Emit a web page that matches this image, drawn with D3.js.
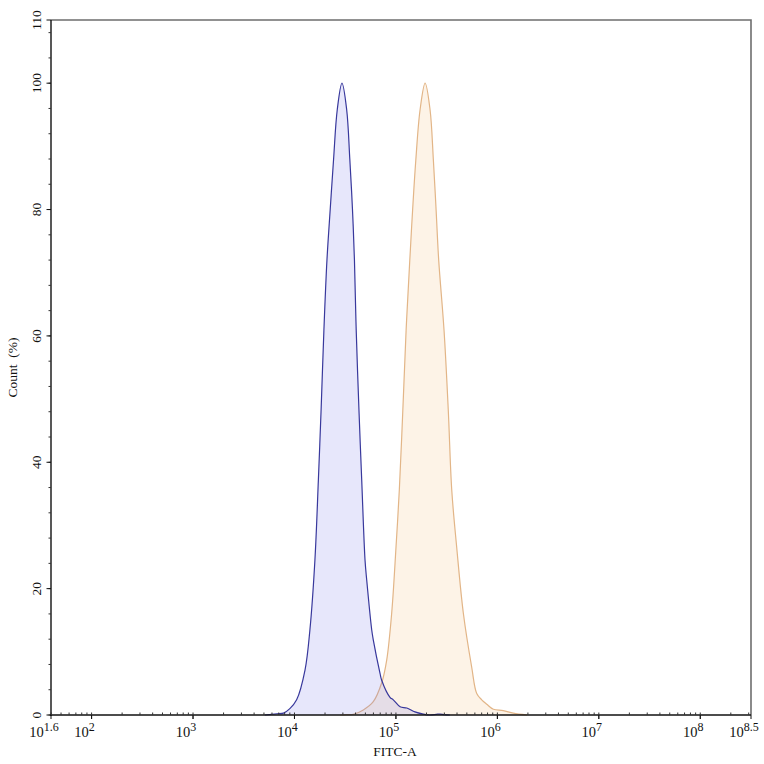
<!DOCTYPE html>
<html lang="en">

<head>
    <meta charset="UTF-8" />
    <title>FITC-A histogram</title>
    <style>
        body { margin: 0; background: #fff; }
        svg text { font-family: "Liberation Serif", "Times New Roman", serif; fill: #111; }
    </style>
</head>

<body>
    <div id="container"></div>
</body>
<script src="https://cdnjs.cloudflare.com/ajax/libs/d3/7.8.5/d3.min.js"></script>
<script>
    // control (blue) histogram: FITC-A intensity, count (%)
    let blueX = [5100, 6700, 7800, 9000, 10500, 12700, 14200, 15900, 17200, 18300, 19500, 20900, 22500, 24300,
        26400, 29400, 32700, 35100, 37300, 39000, 40600, 43200, 46000, 49600, 51500, 57700, 59800, 69700,
        72400, 87400, 94200, 110000, 128000, 154000, 186000, 215000, 250000, 272000, 300000, 340000];
    let blueY = [0, 0.2, 0.3, 1.0, 2.4, 7.1, 13.5, 24.5, 37.2, 48.3, 60.9, 72.0, 80.0, 88.0,
        95.8, 100, 95.8, 88.0, 80.0, 72.0, 60.9, 48.3, 37.2, 24.5, 21.4, 13.5, 11.9, 6.6,
        5.5, 2.8, 2.4, 1.3, 1.1, 0.5, 0.15, 0, 0.1, 0.15, 0.05, 0];
    // stained (orange) histogram
    let orangeX = [28100, 32700, 38000, 47700, 59800, 72400, 81100, 90800, 100200, 108000, 117000, 126000,
        137000, 146000, 157000, 173000, 194000, 217000, 234000, 249000, 264000, 298000, 328000, 355000,
        397000, 462000, 558000, 626000, 701000, 786000, 913000, 1143000, 1436000, 1960000];
    let orangeY = [0, 0.05, 0.1, 0.8, 2.1, 5.1, 8.7, 16.1, 26.6, 35.6, 48.3, 60.9,
        72.0, 79.9, 87.8, 95.8, 100, 95.8, 87.8, 79.9, 72.0, 60.9, 48.3, 35.6,
        26.6, 16.1, 7.6, 3.4, 2.4, 1.7, 0.9, 0.7, 0.3, 0];

    let xDomain = [Math.pow(10, 1.6), Math.pow(10, 8.5)];
    let xTickExp = ["1.6", "2", "3", "4", "5", "6", "7", "8", "8.5"];
    let yTicks = [0, 20, 40, 60, 80, 100, 110];

    let W = 764, H = 764,
        m = { l: 51, r: 751, t: 20, b: 715 };

    let x = d3.scaleLog().domain(xDomain).range([m.l, m.r]);
    let y = d3.scaleLinear().domain([0, 110]).range([m.b, m.t]);

    let svg = d3.select("#container").append("svg").attr("width", W).attr("height", H);

    // frame top / right (grey)
    svg.append("path")
        .attr("d", `M${m.l},${m.t}H${m.r}V${m.b}`)
        .attr("fill", "none").attr("stroke", "#6e6e6e").attr("stroke-width", 1.6);

    let crv = d3.curveCatmullRom.alpha(0.5);
    let area = d3.area().x(d => x(d[0])).y0(y(0)).y1(d => y(d[1])).curve(crv);
    let line = d3.line().x(d => x(d[0])).y(d => y(d[1])).curve(crv);

    let orange = orangeX.map((v, i) => [v, orangeY[i]]);
    let blue = blueX.map((v, i) => [v, blueY[i]]);

    svg.append("path").datum(orange).attr("d", area).attr("fill", "#fdf3e7");
    svg.append("path").datum(orange).attr("d", line).attr("fill", "none").attr("stroke", "#e2b587").attr("stroke-width", 1.2);
    svg.append("path").datum(blue).attr("d", area).attr("fill", "rgb(120,120,235)").attr("fill-opacity", 0.18);
    svg.append("path").datum(blue).attr("d", line).attr("fill", "none").attr("stroke", "#38389c").attr("stroke-width", 1.2);

    // y axis
    let yAxis = svg.append("g").attr("transform", `translate(${m.l},0)`);
    yAxis.append("line").attr("y1", m.t).attr("y2", m.b + 1).attr("stroke", "#111").attr("stroke-width", 1.4);
    d3.range(0, 110, 4).forEach(v => {
        yAxis.append("line").attr("x1", -2.5).attr("x2", 0).attr("y1", y(v)).attr("y2", y(v)).attr("stroke", "#333");
    });
    yTicks.forEach(v => {
        yAxis.append("line").attr("x1", -4.5).attr("x2", 0).attr("y1", y(v)).attr("y2", y(v)).attr("stroke", "#111");
        yAxis.append("text").text(v)
            .attr("transform", `translate(-10,${y(v)}) rotate(-90)`)
            .attr("text-anchor", "middle").attr("font-size", 13.5);
    });
    svg.append("text").text("Count  (%)")
        .attr("transform", `translate(17,${(m.t + m.b) / 2}) rotate(-90)`)
        .attr("text-anchor", "middle").attr("font-size", 13.5)
        .style("white-space", "pre");

    // x axis
    let xAxis = svg.append("g").attr("transform", `translate(0,${m.b})`);
    xAxis.append("line").attr("x1", m.l - 1).attr("x2", m.r).attr("stroke", "#111").attr("stroke-width", 1.4);
    for (let e = 1; e <= 8; e++) {
        for (let k = 1; k < 10; k++) {
            let v = k * Math.pow(10, e);
            if (v < xDomain[0] || v > xDomain[1]) continue;
            xAxis.append("line").attr("x1", x(v)).attr("x2", x(v))
                .attr("y1", k === 1 ? 4 : 0).attr("y2", -2.5).attr("stroke", "#333");
        }
    }
    xTickExp.forEach(ex => {
        let v = Math.pow(10, +ex);
        xAxis.append("line").attr("x1", x(v)).attr("x2", x(v)).attr("y1", 0).attr("y2", 4).attr("stroke", "#111");
        let t = xAxis.append("text").attr("x", x(v) - 7).attr("y", 22)
            .attr("text-anchor", "middle").attr("font-size", 14.5);
        t.append("tspan").text("10");
        t.append("tspan").text(ex).attr("dy", -6).attr("font-size", 12);
    });
    svg.append("text").text("FITC-A").attr("x", 395).attr("y", 756)
        .attr("text-anchor", "middle").attr("font-size", 13.5);
</script>

</html>
